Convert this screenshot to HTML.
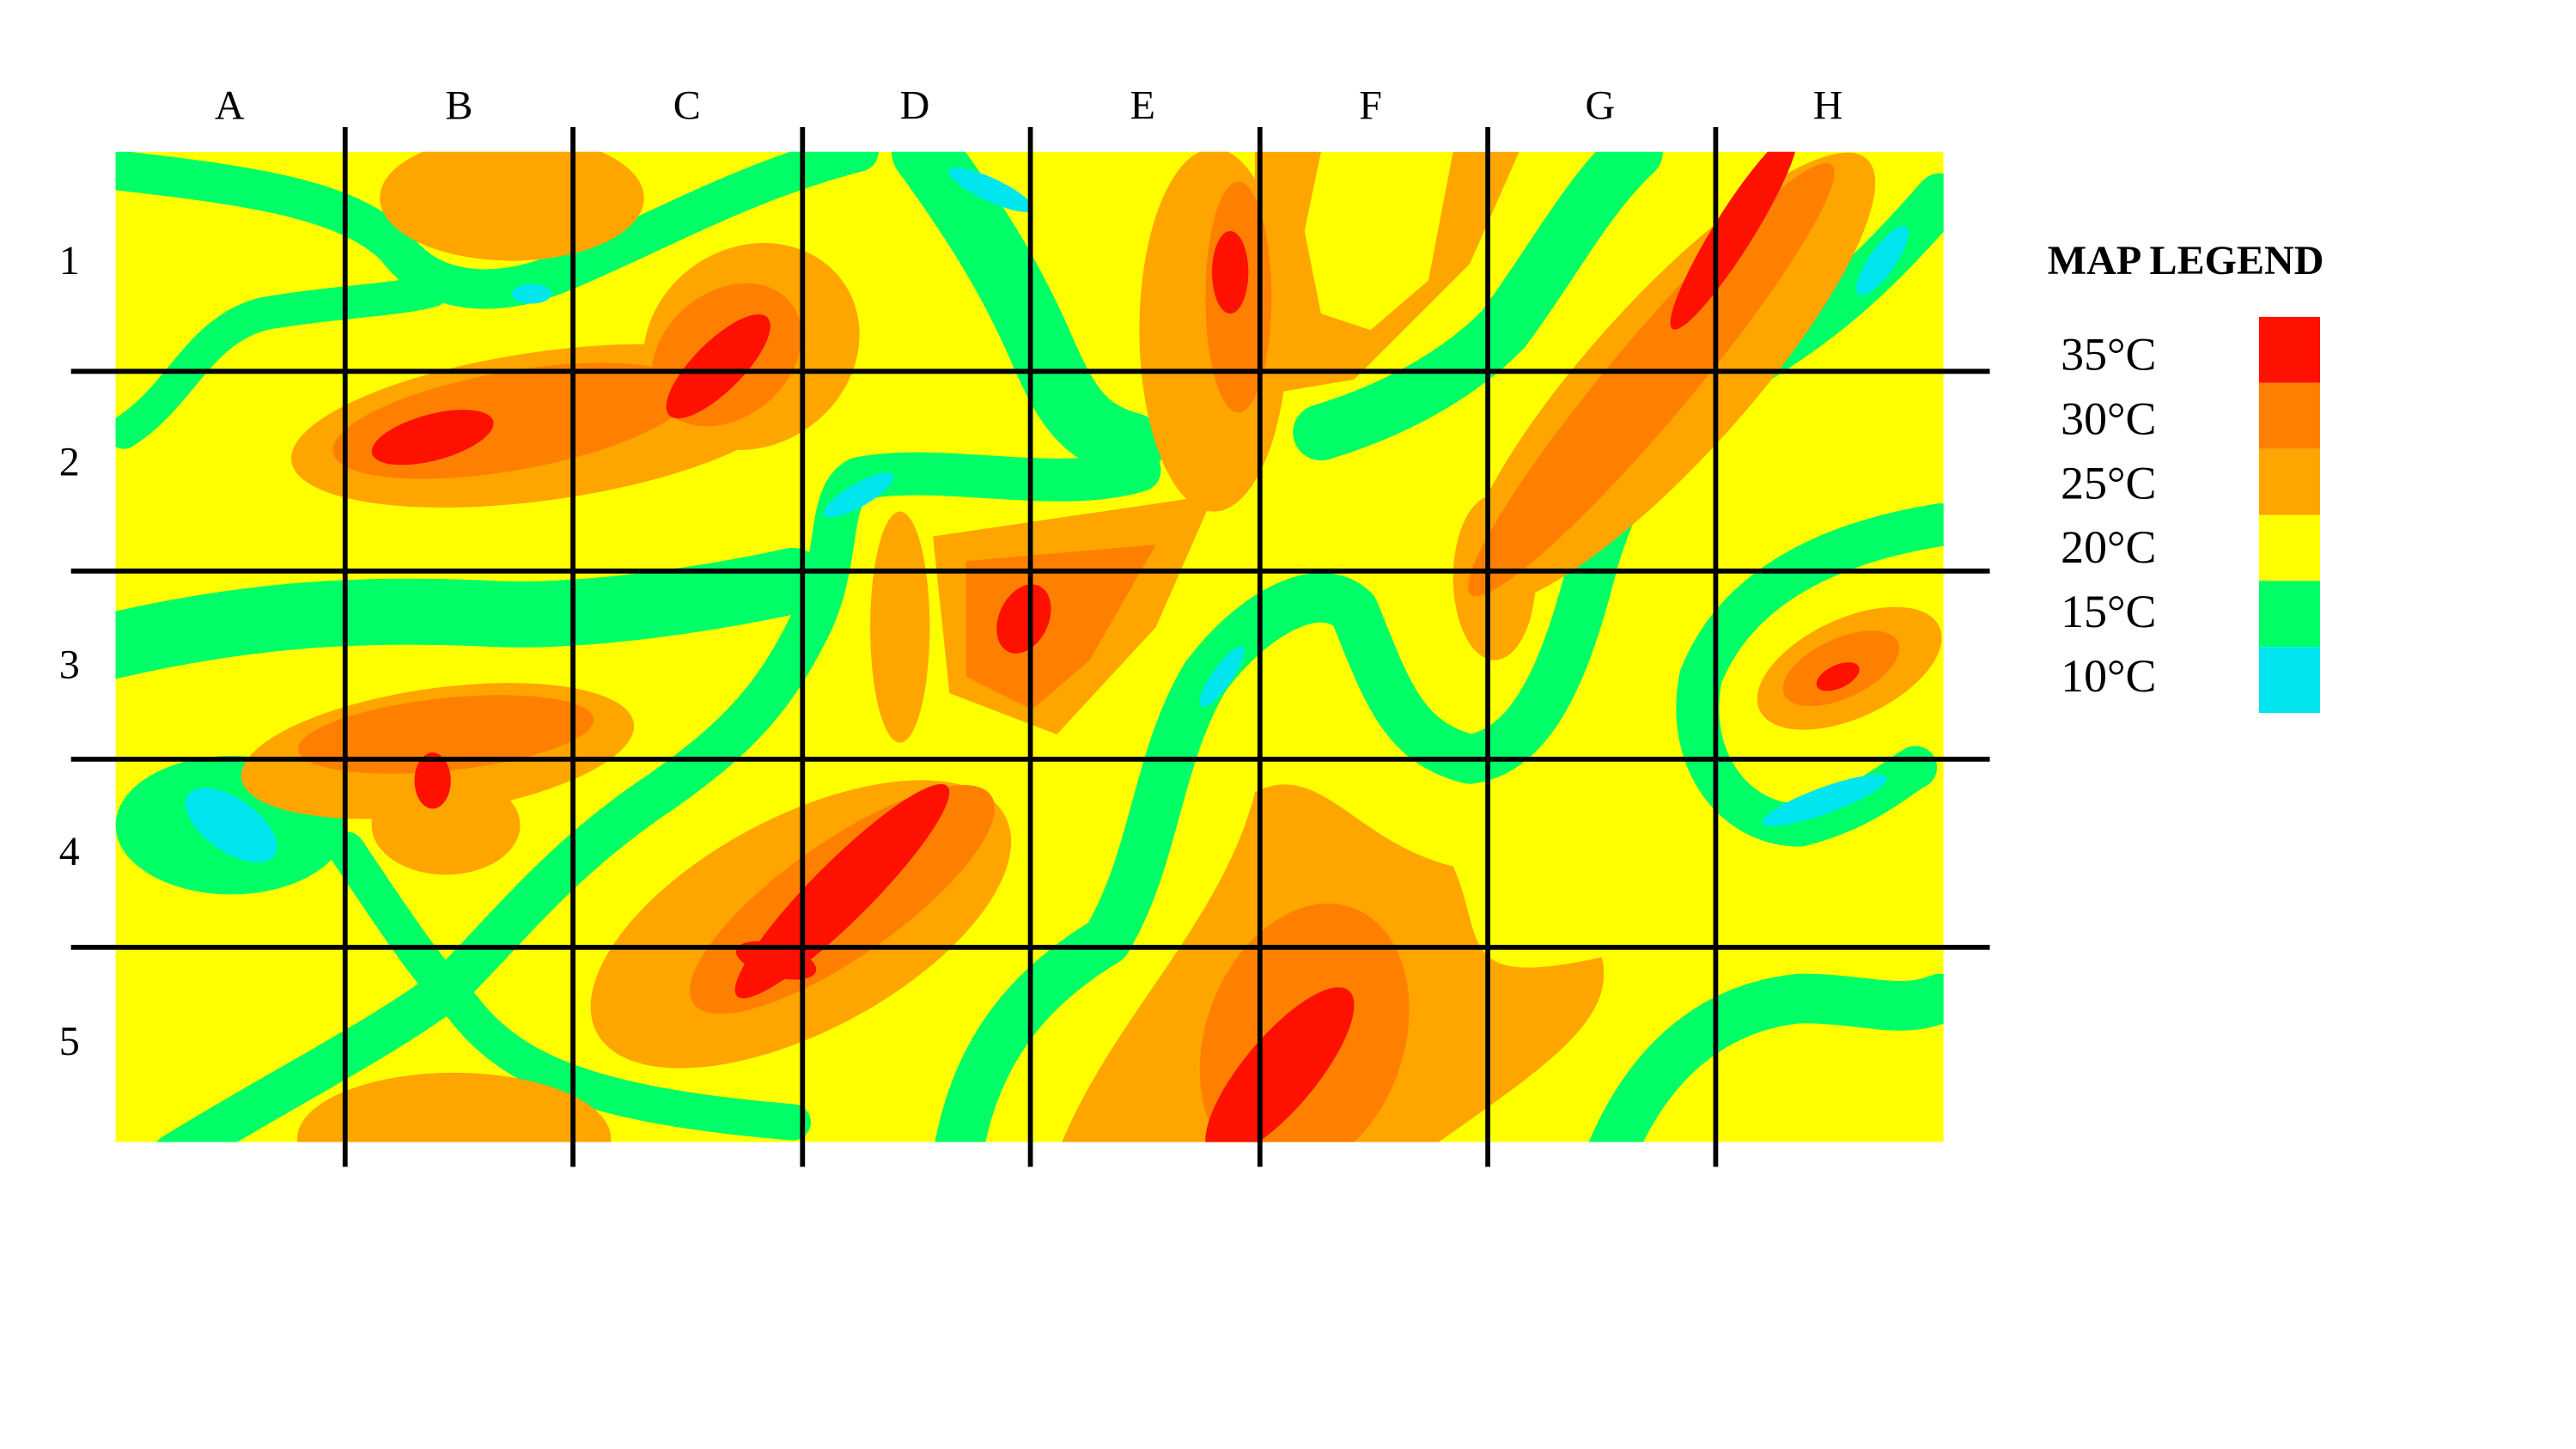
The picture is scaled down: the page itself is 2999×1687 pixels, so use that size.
<!DOCTYPE html>
<html><head><meta charset="utf-8"><style>
html,body{margin:0;padding:0;background:#fff;}
svg{display:block;}
text{font-family:"Liberation Serif",serif;}
</style></head><body>
<svg width="2999" height="1687" viewBox="0 0 1560 878" preserveAspectRatio="none" xmlns="http://www.w3.org/2000/svg">
<defs><clipPath id="mc"><rect x="70" y="92" width="1107" height="600"/></clipPath></defs>
<g clip-path="url(#mc)">
<rect x="70" y="92" width="1107" height="600" fill="#ffff00"/>
<g fill="none" stroke="#00ff66" stroke-linecap="round" stroke-linejoin="round">
<path stroke-width="24" d="M60,102 C150,112 210,120 240,150 C260,178 300,182 340,165 C400,140 450,110 520,92"/>
<path stroke-width="20" d="M75,262 C110,240 120,200 160,190 C200,183 240,182 262,176"/>
<path stroke-width="40" d="M65,392 C150,372 220,368 300,372 C350,374 420,365 480,352"/>
<path stroke-width="26" d="M105,700 C170,660 230,630 270,600 C310,560 340,520 400,480 C450,445 470,420 490,380 C510,340 500,300 520,290 C570,280 640,300 690,285"/>
<path stroke-width="22" d="M210,515 C240,560 260,590 280,610 C310,650 360,670 480,680"/>
<path stroke-width="40" d="M560,92 C595,140 612,170 628,205 C645,245 655,262 685,270"/>
<path stroke-width="30" d="M580,700 C590,640 620,600 670,570 C700,520 700,460 730,410 C760,370 800,350 820,370 C840,420 850,450 890,460 C930,455 950,400 965,340 C980,290 1000,260 1060,220 C1110,190 1140,160 1175,120"/>
<path stroke-width="34" d="M800,262 C840,250 880,230 910,200 C940,160 960,120 990,92"/>
<path stroke-width="30" d="M975,700 C1000,640 1040,610 1090,605 C1130,605 1150,615 1175,605"/>
<path stroke-width="26" d="M1175,318 C1100,330 1050,360 1030,410 C1020,460 1050,500 1090,500 C1130,490 1150,470 1160,465"/>
<ellipse cx="140" cy="500" rx="70" ry="42" fill="#00ff66" stroke="none"/>
</g>
<g fill="#00e5ee">
<ellipse cx="140" cy="500" rx="32" ry="16" transform="rotate(35 140 500)"/>
<ellipse cx="600" cy="115" rx="28" ry="7" transform="rotate(25 600 115)"/>
<ellipse cx="520" cy="300" rx="24" ry="7" transform="rotate(-30 520 300)"/>
<ellipse cx="740" cy="410" rx="22" ry="6" transform="rotate(-55 740 410)"/>
<ellipse cx="1140" cy="158" rx="25" ry="8" transform="rotate(-55 1140 158)"/>
<ellipse cx="1105" cy="485" rx="40" ry="8" transform="rotate(-20 1105 485)"/>
<ellipse cx="322" cy="178" rx="12" ry="6"/>
</g>
<g fill="#ffa500">
<ellipse cx="310" cy="120" rx="80" ry="38"/>
<ellipse cx="330" cy="258" rx="155" ry="45" transform="rotate(-8 330 258)"/>
<ellipse cx="455" cy="210" rx="68" ry="60" transform="rotate(-35 455 210)"/>
<ellipse cx="265" cy="455" rx="120" ry="38" transform="rotate(-8 265 455)"/>
<ellipse cx="270" cy="500" rx="45" ry="30"/>
<path d="M565,325 L735,300 L700,380 L640,445 L575,420 Z"/>
<ellipse cx="545" cy="380" rx="18" ry="70"/>
<ellipse cx="485" cy="560" rx="140" ry="65" transform="rotate(-28 485 560)"/>
<ellipse cx="735" cy="200" rx="45" ry="110"/>
<path d="M760,92 L800,92 L790,140 L800,190 L830,200 L865,170 L880,92 L920,92 L890,160 L820,230 L760,240 Z"/>
<path d="M640,700 C670,620 740,560 760,480 C800,460 820,510 880,525 C900,570 880,600 970,580 C980,620 930,650 860,700 Z"/>
<ellipse cx="1010" cy="230" rx="180" ry="48" transform="rotate(-48 1010 230)"/>
<ellipse cx="905" cy="350" rx="25" ry="50"/>
<ellipse cx="1120" cy="405" rx="60" ry="30" transform="rotate(-25 1120 405)"/>
<ellipse cx="275" cy="690" rx="95" ry="40"/>
</g>
<g fill="#ff8000">
<ellipse cx="310" cy="255" rx="110" ry="30" transform="rotate(-10 310 255)"/>
<ellipse cx="440" cy="215" rx="50" ry="38" transform="rotate(-40 440 215)"/>
<ellipse cx="270" cy="445" rx="90" ry="22" transform="rotate(-6 270 445)"/>
<path d="M585,340 L700,330 L660,400 L625,430 L585,410 Z"/>
<ellipse cx="510" cy="545" rx="110" ry="35" transform="rotate(-35 510 545)"/>
<ellipse cx="750" cy="180" rx="20" ry="70"/>
<ellipse cx="790" cy="630" rx="60" ry="85" transform="rotate(20 790 630)"/>
<ellipse cx="1000" cy="230" rx="170" ry="25" transform="rotate(-50 1000 230)"/>
<ellipse cx="1115" cy="405" rx="38" ry="18" transform="rotate(-25 1115 405)"/>
</g>
<g fill="#ff1100">
<ellipse cx="262" cy="265" rx="38" ry="14" transform="rotate(-15 262 265)"/>
<ellipse cx="435" cy="222" rx="42" ry="15" transform="rotate(-45 435 222)"/>
<ellipse cx="262" cy="473" rx="11" ry="17"/>
<ellipse cx="620" cy="375" rx="15" ry="22" transform="rotate(25 620 375)"/>
<ellipse cx="510" cy="540" rx="90" ry="18" transform="rotate(-45 510 540)"/>
<ellipse cx="470" cy="582" rx="25" ry="10" transform="rotate(15 470 582)"/>
<ellipse cx="745" cy="165" rx="11" ry="25"/>
<ellipse cx="775" cy="650" rx="65" ry="22" transform="rotate(-50 775 650)"/>
<ellipse cx="1050" cy="140" rx="70" ry="12" transform="rotate(-58 1050 140)"/>
<ellipse cx="1113" cy="410" rx="14" ry="7" transform="rotate(-25 1113 410)"/>
</g>
</g>
<g stroke="#000" stroke-width="3">
<line x1="209" y1="77" x2="209" y2="707"/><line x1="347" y1="77" x2="347" y2="707"/>
<line x1="486" y1="77" x2="486" y2="707"/><line x1="624" y1="77" x2="624" y2="707"/>
<line x1="763" y1="77" x2="763" y2="707"/><line x1="901" y1="77" x2="901" y2="707"/>
<line x1="1039" y1="77" x2="1039" y2="707"/>
<line x1="43" y1="225" x2="1205" y2="225"/><line x1="43" y1="346" x2="1205" y2="346"/>
<line x1="43" y1="460" x2="1205" y2="460"/><line x1="43" y1="574" x2="1205" y2="574"/>
</g>
<g font-size="25" text-anchor="middle" fill="#000">
<text x="139" y="72">A</text><text x="278" y="72">B</text><text x="416" y="72">C</text><text x="554" y="72">D</text>
<text x="692" y="72">E</text><text x="830" y="72">F</text><text x="969" y="72">G</text><text x="1107" y="72">H</text>
</g>
<g font-size="25" text-anchor="middle" fill="#000">
<text x="42" y="166">1</text><text x="42" y="288">2</text><text x="42" y="411">3</text><text x="42" y="524">4</text><text x="42" y="639">5</text>
</g>
<g id="legend">
<text x="1240" y="166" font-size="25" font-weight="bold">MAP LEGEND</text>
</g>
</svg>
<script>
const legendLabels = ["35°C","30°C","25°C","20°C","15°C","10°C"];
const legendColors = ["#ff1100","#ff8000","#ffa500","#ffff00","#00ff66","#00e5ee"];
const ns = "http://www.w3.org/2000/svg";
const lg = document.getElementById("legend");
legendLabels.forEach((lab, i) => {
  const r = document.createElementNS(ns, "rect");
  r.setAttribute("x", 1368); r.setAttribute("y", 192 + i * 40);
  r.setAttribute("width", 37); r.setAttribute("height", 40);
  r.setAttribute("fill", legendColors[i]);
  
  
  lg.appendChild(r);
  const t = document.createElementNS(ns, "text");
  t.setAttribute("x", 1248); t.setAttribute("y", 224 + i * 39);
  t.setAttribute("font-size", "28");
  t.textContent = lab;
  
  
  lg.appendChild(t);
});
</script>
</body></html>
